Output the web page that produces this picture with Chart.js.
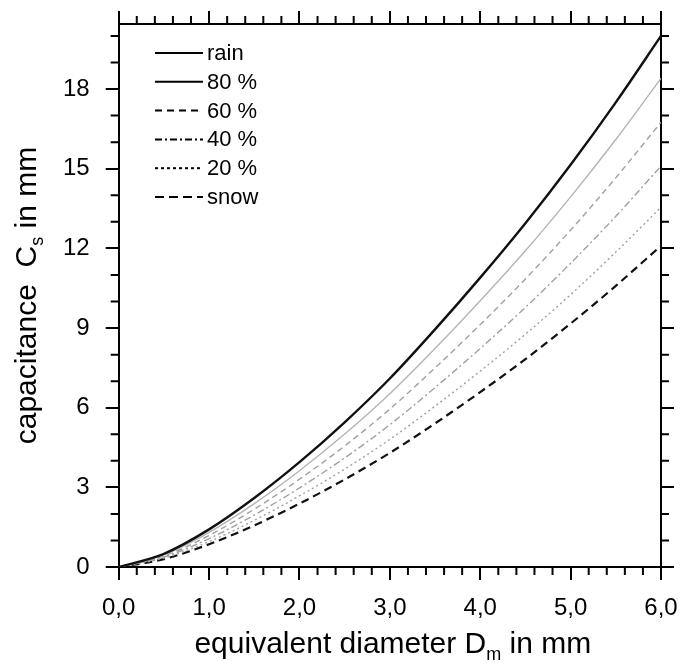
<!DOCTYPE html>
<html lang="en">
<head>
    <meta charset="UTF-8">
    <title>Capacitance vs equivalent diameter</title>
    <script src="https://cdn.jsdelivr.net/npm/chart.js"></script>
    <style>
        html, body { margin: 0; padding: 0; background: #fff; }
        #wrap { width: 682px; height: 668px; }
    </style>
</head>
<body>
    <div id="wrap"><canvas id="capChart"></canvas></div>

    <script>
        // equivalent diameter D_m in mm
        const diameter = [0, 0.5, 1, 1.5, 2, 2.5, 3, 3.5, 4, 4.5, 5, 5.5, 6];

        // capacitance C_s in mm
        const rain   = [0, 0.5, 1.42, 2.6, 3.95, 5.45, 7.1, 8.95, 10.9, 12.95, 15.15, 17.5, 20.0];
        const pct80  = [0, 0.46, 1.31, 2.39, 3.63, 5.01, 6.53, 8.23, 10.03, 11.91, 13.94, 16.1, 18.4];
        const pct60  = [0, 0.42, 1.19, 2.18, 3.31, 4.56, 5.95, 7.5, 9.13, 10.85, 12.69, 14.66, 16.75];
        const pct40  = [0, 0.38, 1.07, 1.96, 2.98, 4.11, 5.36, 6.76, 8.23, 9.78, 11.44, 13.21, 15.1];
        const pct20  = [0, 0.34, 0.96, 1.76, 2.68, 3.69, 4.81, 6.06, 7.38, 8.77, 10.26, 11.86, 13.55];
        const snow   = [0, 0.3, 0.86, 1.57, 2.39, 3.3, 4.3, 5.41, 6.59, 7.83, 9.17, 10.59, 12.1];

        const seriesNames = ['rain', '80 %', '60 %', '40 %', '20 %', 'snow'];

        const FONT = "'Liberation Sans', Arial, sans-serif";
        const pts = arr => arr.map((v, i) => ({ x: diameter[i], y: v }));

        const mkSet = (label, values, color, width, dash, legendDash, legendWidth) => ({
            label,
            data: pts(values),
            borderColor: color,
            borderWidth: width,
            borderDash: dash,
            legendDash,
            legendWidth,
            pointRadius: 0,
            fill: false,
            cubicInterpolationMode: 'monotone'
        });

        const datasets = [
            mkSet(seriesNames[0], rain,  '#111', 2.4, [], [], 2),
            mkSet(seriesNames[1], pct80, '#b4b4b4', 1.4, [], [], 2),
            mkSet(seriesNames[2], pct60, '#a0a0a0', 1.4, [6, 4], [7, 5], 2),
            mkSet(seriesNames[3], pct40, '#a0a0a0', 1.4, [7, 3, 2, 3], [7, 3, 2, 3], 2),
            mkSet(seriesNames[4], pct20, '#a0a0a0', 1.4, [2, 3], [3, 3], 2),
            mkSet(seriesNames[5], snow,  '#111', 2.2, [8, 5], [9, 5], 2)
        ];

        // minor ticks on all four sides of the frame
        const minorTicks = {
            id: 'minorTicks',
            afterDraw(chart) {
                const { ctx, chartArea: a, scales: { x, y } } = chart;
                ctx.save();
                ctx.strokeStyle = '#000';
                ctx.lineWidth = 2;
                ctx.beginPath();
                for (let i = 1; i < 30; i++) {
                    if (i % 5 === 0) continue;
                    const px = x.getPixelForValue(i * 0.2);
                    ctx.moveTo(px, a.bottom); ctx.lineTo(px, a.bottom + 8);
                    ctx.moveTo(px, a.top); ctx.lineTo(px, a.top - 8);
                }
                for (let v = 1; v <= 20; v++) {
                    if (v % 3 === 0) continue;
                    const py = y.getPixelForValue(v);
                    ctx.moveTo(a.left, py); ctx.lineTo(a.left - 8, py);
                    ctx.moveTo(a.right, py); ctx.lineTo(a.right + 8, py);
                }
                ctx.stroke();
                ctx.restore();
            }
        };

        // axis titles with subscripts
        function subText(ctx, parts, size) {
            // parts: [text, isSub]
            let w = 0;
            parts.forEach(([t, sub]) => {
                ctx.font = (sub ? size * 0.6 : size) + 'px ' + FONT;
                w += ctx.measureText(t).width;
            });
            let cx = -w / 2;
            parts.forEach(([t, sub]) => {
                ctx.font = (sub ? size * 0.6 : size) + 'px ' + FONT;
                ctx.fillText(t, cx, sub ? size * 0.22 : 0);
                cx += ctx.measureText(t).width;
            });
        }

        const axisTitles = {
            id: 'axisTitles',
            afterDraw(chart) {
                const { ctx, chartArea: a } = chart;
                ctx.save();
                ctx.fillStyle = '#000';
                ctx.textAlign = 'left';
                ctx.textBaseline = 'alphabetic';
                ctx.translate((a.left + a.right) / 2 + 3, 653);
                subText(ctx, [['equivalent diameter D', false], ['m', true], [' in mm', false]], 30);
                ctx.restore();

                ctx.save();
                ctx.fillStyle = '#000';
                ctx.textAlign = 'left';
                ctx.textBaseline = 'alphabetic';
                ctx.translate(36, (a.top + a.bottom) / 2);
                ctx.rotate(-Math.PI / 2);
                subText(ctx, [['capacitance  C', false], ['s', true], [' in mm', false]], 30);
                ctx.restore();
            }
        };

        // legend inside the plot, black line samples
        const innerLegend = {
            id: 'innerLegend',
            afterDraw(chart) {
                const { ctx } = chart;
                ctx.save();
                ctx.font = '22px ' + FONT;
                ctx.fillStyle = '#000';
                ctx.textBaseline = 'middle';
                chart.data.datasets.forEach((ds, i) => {
                    const yy = 53 + i * 28.8;
                    ctx.strokeStyle = '#000';
                    ctx.lineWidth = ds.legendWidth;
                    ctx.setLineDash(ds.legendDash);
                    ctx.beginPath();
                    ctx.moveTo(155, yy);
                    ctx.lineTo(203, yy);
                    ctx.stroke();
                    ctx.fillText(ds.label, 207, yy + 1);
                });
                ctx.restore();
            }
        };

        const frameGrid = {
            drawOnChartArea: false,
            tickLength: 13,
            lineWidth: 2,
            tickWidth: 2,
            color: '#000'
        };
        const frameBorder = { color: '#000', width: 2 };

        new Chart(document.getElementById('capChart').getContext('2d'), {
            type: 'line',
            data: { datasets },
            options: {
                responsive: true,
                maintainAspectRatio: false,
                animation: false,
                layout: { padding: { left: 47, right: 8, top: 11, bottom: 32 } },
                plugins: {
                    legend: { display: false },
                    tooltip: { enabled: false }
                },
                scales: {
                    x: {
                        type: 'linear', axis: 'x', position: 'bottom', min: 0, max: 6,
                        ticks: {
                            stepSize: 1, padding: 3, color: '#000', maxRotation: 0,
                            font: { family: FONT, size: 24, lineHeight: 2.08 },
                            callback: v => v.toFixed(1).replace('.', ',')
                        },
                        grid: frameGrid, border: frameBorder
                    },
                    xTop: {
                        type: 'linear', axis: 'x', position: 'top', min: 0, max: 6,
                        ticks: { stepSize: 1, display: false },
                        grid: frameGrid, border: frameBorder
                    },
                    y: {
                        type: 'linear', axis: 'y', position: 'left', min: 0, max: 20.45,
                        ticks: {
                            stepSize: 3, includeBounds: false, padding: 16, color: '#000',
                            font: { family: FONT, size: 24, lineHeight: 0.6 }
                        },
                        grid: frameGrid, border: frameBorder
                    },
                    yRight: {
                        type: 'linear', axis: 'y', position: 'right', min: 0, max: 20.45,
                        ticks: { stepSize: 3, includeBounds: false, display: false },
                        grid: frameGrid, border: frameBorder
                    }
                }
            },
            plugins: [minorTicks, axisTitles, innerLegend]
        });
    </script>
</body>
</html>
